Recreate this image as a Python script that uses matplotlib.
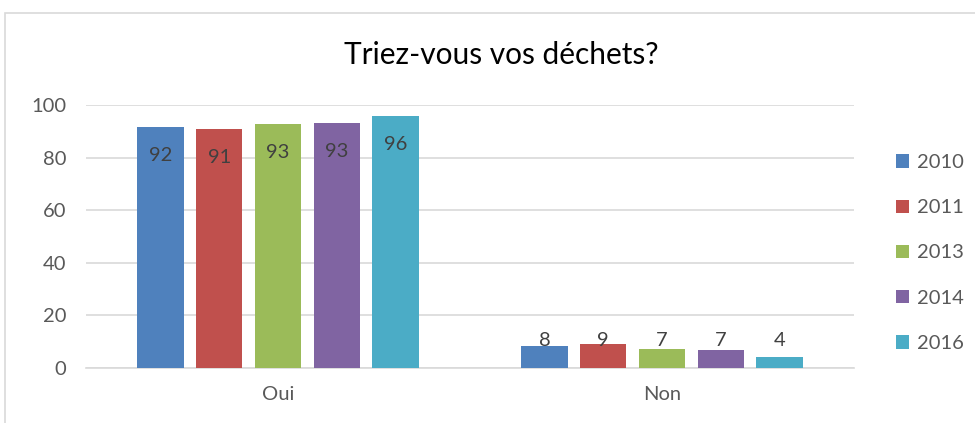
import numpy as np
import matplotlib.pyplot as plt
from matplotlib.patches import Rectangle

plt.rcParams['font.family'] = ['Lato', 'DejaVu Sans']

# données
categories = ['Oui', 'Non']
years = ['2010', '2011', '2013', '2014', '2016']
oui = [91.7, 90.9, 92.8, 93.3, 95.8]
non = [8.3, 9.1, 7.2, 6.7, 4.2]
colors = ['#4F81BD', '#C0504D', '#9BBB59', '#8064A2', '#4BACC6']

values = np.array([oui, non])  # (catégorie, année)

fig = plt.figure(figsize=(9.75, 4.23), dpi=100)
ax = fig.add_axes([86 / 975, 1 - 368 / 423, (854 - 86) / 975, (368 - 105) / 423])

# cadre du graphique
fig.patches.append(Rectangle((5 / 975, -0.1), 1.2, 0.1 + (423 - 13) / 423,
                             transform=fig.transFigure, fill=False,
                             edgecolor='#D9D9D9', linewidth=1.2))

x = np.arange(len(categories))
n = len(years)
step = 0.153
width = 0.12
fs = 14.5
handles = []
for i, year in enumerate(years):
    pos = x + (i - (n - 1) / 2) * step
    b = ax.bar(pos, values[:, i], width, color=colors[i], label=year, zorder=3)
    handles.append(b)
    for px, v in zip(pos, values[:, i]):
        ty = max(v - 10.8, 10.3)
        ax.text(px, ty, f'{v:.0f}', ha='center', va='center',
                fontsize=fs, color='#404040', zorder=4)

ax.set_xlim(-0.5, 1.5)
ax.set_ylim(0, 100)
ax.set_yticks(np.arange(0, 101, 20))
ax.set_xticks(x)
ax.set_xticklabels(categories)
ax.grid(axis='y', color='#D9D9D9', linewidth=1.2, zorder=0)
for s in ['top', 'right', 'left']:
    ax.spines[s].set_visible(False)
ax.spines['bottom'].set_color('#D9D9D9')
ax.spines['bottom'].set_linewidth(1.2)
ax.tick_params(axis='both', length=0, labelsize=fs, colors='#595959')
ax.tick_params(axis='y', pad=14)
ax.tick_params(axis='x', pad=13)

fig.text(501 / 975, 1 - 55 / 423, 'Triez-vous vos déchets?', ha='center', va='center',
         fontsize=21.5, color='#000000')

fig.legend(handles=handles, loc='center left', bbox_to_anchor=(878 / 975, 1 - 253 / 423),
           frameon=False, fontsize=fs, labelcolor='#595959',
           handlelength=0.65, handleheight=0.65, handletextpad=0.4, labelspacing=1.4)

fig.savefig('out.png', dpi=100)
